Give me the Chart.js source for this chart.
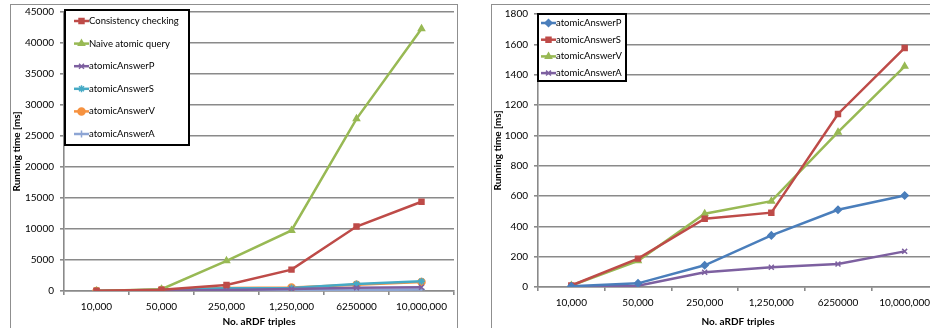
<!DOCTYPE html>
<html>
<head>
<meta charset="utf-8">
<script src="https://cdn.jsdelivr.net/npm/chart.js@4.4.0/dist/chart.umd.min.js"></script>
<style>
html, body { margin: 0; padding: 0; background: #fff; overflow: hidden; width: 930px; height: 328px; }
.frame { position: absolute; border: 1.5px solid #8f8f8f; box-sizing: border-box; }
canvas { position: absolute; top: 0; }
</style>
</head>
<body>
<div class="frame" style="left:10px;top:4px;width:448px;height:340px"></div>
<div class="frame" style="left:491px;top:4px;width:470px;height:340px"></div>
<canvas id="leftChart" width="450" height="328" style="left:10px"></canvas>
<canvas id="rightChart" width="460" height="328" style="left:491px"></canvas>
<script>
const categories = ['10,000', '50,000', '250,000', '1,250,000', '6250000', '10,000,000'];

// left chart series
const consistencyChecking = [30, 200, 960, 3450, 10400, 14400];
const naiveAtomicQuery = [20, 300, 4860, 9770, 27770, 42300];

// atomic answers (used in both charts)
const answerP = [5, 24, 143, 340, 509, 603];
const answerS = [10, 187, 450, 490, 1141, 1576];
const answerV = [10, 173, 483, 566, 1021, 1455];
const answerA = [2, 9, 97, 130, 151, 235];

const leftYMax = 45000;
const leftYStep = 5000;
const rightYMax = 1800;
const rightYStep = 200;

Chart.defaults.font.family = 'Lato';
Chart.defaults.color = '#000';

const gridColor = '#8a8a8a';
const tickFont = { family: 'Lato', size: 10 };
const titleFont = { family: 'Lato', size: 10, weight: 'bold' };

const series = (label, data, color, pointStyle) => ({
    label: label,
    data: data,
    borderColor: color,
    backgroundColor: color,
    pointStyle: pointStyle,
    pointRadius: 3.5,
    pointBorderWidth: 1.5,
    borderWidth: 2.5,
    tension: 0
});

// legend drawn inside the plot, boxed like the original
const boxLegend = {
    id: 'boxLegend',
    beforeDatasetsDraw(chart, args, opts) {
        const ctx = chart.ctx;
        ctx.save();
        ctx.fillStyle = '#fff';
        ctx.fillRect(opts.x, opts.y, opts.w, opts.h);
        ctx.lineWidth = 2;
        ctx.strokeStyle = '#000';
        ctx.strokeRect(opts.x, opts.y, opts.w, opts.h);
        chart.data.datasets.forEach((ds, i) => {
            const y = opts.y + opts.first + i * opts.step;
            ctx.strokeStyle = ds.borderColor;
            ctx.fillStyle = ds.backgroundColor;
            ctx.lineWidth = 2.5;
            ctx.beginPath();
            ctx.moveTo(opts.x + opts.lineStart, y);
            ctx.lineTo(opts.x + opts.lineStart + 15, y);
            ctx.stroke();
            ctx.lineWidth = 1.5;
            Chart.helpers.drawPoint(ctx, { pointStyle: ds.pointStyle, radius: 3.5, borderWidth: 1.5 }, opts.x + opts.lineStart + 7.5, y);
            ctx.fillStyle = '#000';
            ctx.font = '9.5px Lato';
            ctx.textBaseline = 'middle';
            ctx.textAlign = 'left';
            ctx.fillText(ds.label, opts.x + opts.lineStart + 15, y);
        });
        ctx.restore();
    }
};

const makeScales = (yMax, yStep, yWidth, xHeight) => ({
    x: {
        offset: true,
        grid: { offset: true, drawOnChartArea: false, drawTicks: true, tickLength: 4, color: gridColor, lineWidth: 1.6 },
        border: { color: gridColor, width: 1.6 },
        ticks: { padding: 6, color: '#000', font: tickFont, maxRotation: 0, autoSkip: false },
        title: { display: true, text: 'No. aRDF triples', font: titleFont, color: '#000', padding: { top: 0, bottom: 0 } },
        afterFit: (scale) => { scale.height = xHeight; }
    },
    y: {
        min: 0,
        max: yMax,
        grid: { color: gridColor, lineWidth: 1.6, tickLength: 4 },
        border: { color: gridColor, width: 1.6 },
        ticks: { stepSize: yStep, padding: 6, color: '#000', font: tickFont, callback: (v) => String(v) },
        title: { display: true, text: 'Running time [ms]', font: titleFont, color: '#000', padding: { top: 1, bottom: 0 } },
        afterFit: (scale) => { scale.width = yWidth; }
    }
});

new Chart(document.getElementById('leftChart'), {
    type: 'line',
    data: {
        labels: categories,
        datasets: [
            series('Consistency checking', consistencyChecking, '#be4b48', 'rect'),
            series('Naive atomic query', naiveAtomicQuery, '#98b954', 'triangle'),
            series('atomicAnswerP', answerP, '#7d60a0', 'crossRot'),
            series('atomicAnswerS', answerS, '#46aac5', 'star'),
            series('atomicAnswerV', answerV, '#f69240', 'circle'),
            series('atomicAnswerA', answerA, '#8da5d4', 'cross')
        ]
    },
    options: {
        responsive: false,
        animation: false,
        layout: { padding: { top: 10, right: 6, left: 0, bottom: 0 } },
        scales: makeScales(leftYMax, leftYStep, 54, 37),
        plugins: {
            legend: { display: false },
            tooltip: { enabled: false },
            boxLegend: { x: 55, y: 10, w: 124, h: 135, first: 11, step: 22.6, lineStart: 9 }
        }
    },
    plugins: [boxLegend]
});

new Chart(document.getElementById('rightChart'), {
    type: 'line',
    data: {
        labels: categories,
        datasets: [
            series('atomicAnswerP', answerP, '#4a7ebb', 'rectRot'),
            series('atomicAnswerS', answerS, '#be4b48', 'rect'),
            series('atomicAnswerV', answerV, '#98b954', 'triangle'),
            series('atomicAnswerA', answerA, '#7d60a0', 'crossRot')
        ]
    },
    options: {
        responsive: false,
        animation: false,
        layout: { padding: { top: 14, right: 13, left: 0, bottom: 0 } },
        scales: makeScales(rightYMax, rightYStep, 47, 41),
        plugins: {
            legend: { display: false },
            tooltip: { enabled: false },
            boxLegend: { x: 47, y: 14, w: 88, h: 67, first: 9, step: 16.7, lineStart: 3 }
        }
    },
    plugins: [boxLegend]
});
</script>
</body>
</html>
